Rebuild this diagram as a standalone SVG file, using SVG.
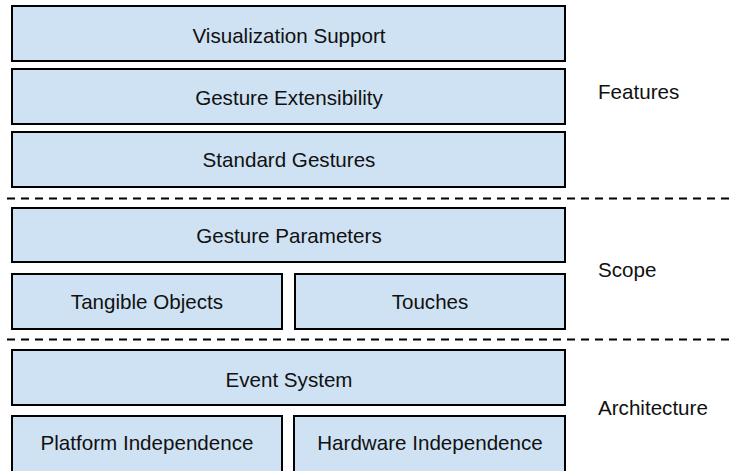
<svg xmlns="http://www.w3.org/2000/svg" width="730" height="471" viewBox="0 0 730 471">
  <style>
    .box { fill: #cfe2f3; stroke: #000000; stroke-width: 2; }
    .lbl { font-family: "Liberation Sans", Arial, sans-serif; font-size: 20.6px; fill: #111111; text-anchor: middle; }
    .side { font-family: "Liberation Sans", Arial, sans-serif; font-size: 20.6px; fill: #111111; }
    .sep { stroke: #000000; stroke-width: 2; stroke-dasharray: 8 6; fill: none; }
  </style>
  <rect width="730" height="471" fill="#ffffff"/>

  <!-- layer separators -->
  <g id="separators">
    <line class="sep" x1="7" y1="198.5" x2="730" y2="198.5"/>
    <line class="sep" x1="7" y1="339.5" x2="730" y2="339.5"/>
  </g>

  <!-- Features layer -->
  <g id="visualization-support">
    <rect class="box" x="12" y="6" width="553" height="55"/>
    <text class="lbl" x="289" y="43">Visualization Support</text>
  </g>
  <g id="gesture-extensibility">
    <rect class="box" x="12" y="69" width="553" height="55"/>
    <text class="lbl" x="289" y="105">Gesture Extensibility</text>
  </g>
  <g id="standard-gestures">
    <rect class="box" x="12" y="132" width="553" height="55"/>
    <text class="lbl" x="289" y="167">Standard Gestures</text>
  </g>

  <!-- Scope layer -->
  <g id="gesture-parameters">
    <rect class="box" x="12" y="208" width="553" height="54"/>
    <text class="lbl" x="289" y="243">Gesture Parameters</text>
  </g>
  <g id="tangible-objects">
    <rect class="box" x="12" y="274" width="270" height="55"/>
    <text class="lbl" x="147" y="309">Tangible Objects</text>
  </g>
  <g id="touches">
    <rect class="box" x="295" y="274" width="270" height="55"/>
    <text class="lbl" x="430" y="309">Touches</text>
  </g>

  <!-- Architecture layer -->
  <g id="event-system">
    <rect class="box" x="12" y="350" width="553" height="55"/>
    <text class="lbl" x="289" y="387">Event System</text>
  </g>
  <g id="platform-independence">
    <rect class="box" x="12" y="416" width="270" height="62"/>
    <text class="lbl" x="147" y="450">Platform Independence</text>
  </g>
  <g id="hardware-independence">
    <rect class="box" x="294" y="416" width="271" height="62"/>
    <text class="lbl" x="430" y="450">Hardware Independence</text>
  </g>

  <!-- layer names -->
  <g id="layer-names">
    <text class="side" x="598" y="99">Features</text>
    <text class="side" x="598" y="277">Scope</text>
    <text class="side" x="598" y="415">Architecture</text>
  </g>
</svg>
